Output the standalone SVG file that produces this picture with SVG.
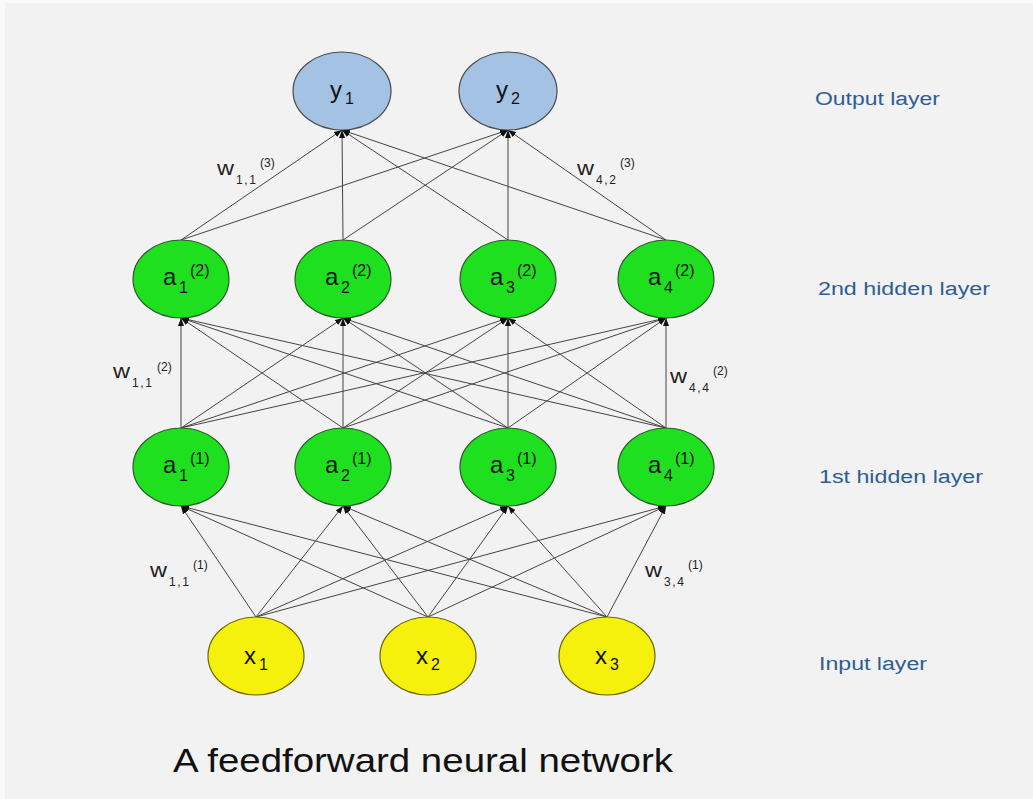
<svg xmlns="http://www.w3.org/2000/svg" width="1033" height="799" viewBox="0 0 1033 799">
<defs>
<style>
.edge{stroke:#444;stroke-width:1;fill:none;marker-end:url(#ah)}
.out{fill:#a3c2e4;stroke:#4a4a4a;stroke-width:1.2}
.hid{fill:#1fe01f;stroke:#2a5a2a;stroke-width:1.2}
.inp{fill:#f5f10c;stroke:#6b6600;stroke-width:1.2}
.nl{font-family:"Liberation Sans",Arial,sans-serif;font-size:24px;fill:#111}
.ns{font-family:"Liberation Sans",Arial,sans-serif;font-size:16px;fill:#111}
.wl{font-family:"Liberation Sans",Arial,sans-serif;font-size:20px;fill:#222}
.ws{font-family:"Liberation Sans",Arial,sans-serif;font-size:12px;fill:#222}
.layer{font-family:"Liberation Sans",Arial,sans-serif;font-size:18px;fill:#2f5d92}
.title{font-family:"Liberation Sans",Arial,sans-serif;font-size:34px;fill:#111}
</style>
<marker id="ah" markerWidth="8" markerHeight="6" refX="8" refY="3" orient="auto" markerUnits="userSpaceOnUse">
<path d="M0,0 L8,3 L0,6 z" fill="#111"/>
</marker>
</defs>
<rect x="0" y="0" width="1033" height="799" fill="#fafafa"/>
<rect x="5" y="3" width="1028" height="796" fill="#f2f2f2"/>

<g id="connectors">
<line class="edge" x1="256" y1="617" x2="181" y2="506"/>
<line class="edge" x1="256" y1="617" x2="343" y2="506"/>
<line class="edge" x1="256" y1="617" x2="508" y2="506"/>
<line class="edge" x1="256" y1="617" x2="666" y2="506"/>
<line class="edge" x1="428" y1="617" x2="181" y2="506"/>
<line class="edge" x1="428" y1="617" x2="343" y2="506"/>
<line class="edge" x1="428" y1="617" x2="508" y2="506"/>
<line class="edge" x1="428" y1="617" x2="666" y2="506"/>
<line class="edge" x1="607" y1="617" x2="181" y2="506"/>
<line class="edge" x1="607" y1="617" x2="343" y2="506"/>
<line class="edge" x1="607" y1="617" x2="508" y2="506"/>
<line class="edge" x1="607" y1="617" x2="666" y2="506"/>
<line class="edge" x1="181" y1="428" x2="181" y2="318"/>
<line class="edge" x1="181" y1="428" x2="343" y2="318"/>
<line class="edge" x1="181" y1="428" x2="508" y2="318"/>
<line class="edge" x1="181" y1="428" x2="666" y2="318"/>
<line class="edge" x1="343" y1="428" x2="181" y2="318"/>
<line class="edge" x1="343" y1="428" x2="343" y2="318"/>
<line class="edge" x1="343" y1="428" x2="508" y2="318"/>
<line class="edge" x1="343" y1="428" x2="666" y2="318"/>
<line class="edge" x1="508" y1="428" x2="181" y2="318"/>
<line class="edge" x1="508" y1="428" x2="343" y2="318"/>
<line class="edge" x1="508" y1="428" x2="508" y2="318"/>
<line class="edge" x1="508" y1="428" x2="666" y2="318"/>
<line class="edge" x1="666" y1="428" x2="181" y2="318"/>
<line class="edge" x1="666" y1="428" x2="343" y2="318"/>
<line class="edge" x1="666" y1="428" x2="508" y2="318"/>
<line class="edge" x1="666" y1="428" x2="666" y2="318"/>
<line class="edge" x1="181" y1="240" x2="342" y2="130"/>
<line class="edge" x1="181" y1="240" x2="508" y2="130"/>
<line class="edge" x1="343" y1="240" x2="342" y2="130"/>
<line class="edge" x1="343" y1="240" x2="508" y2="130"/>
<line class="edge" x1="508" y1="240" x2="342" y2="130"/>
<line class="edge" x1="508" y1="240" x2="508" y2="130"/>
<line class="edge" x1="666" y1="240" x2="342" y2="130"/>
<line class="edge" x1="666" y1="240" x2="508" y2="130"/>
</g>

<g id="y1"><ellipse class="out" cx="342" cy="91" rx="49" ry="39"/><text class="nl" x="330" y="98">y</text><text class="ns" x="345" y="104">1</text></g>
<g id="y2"><ellipse class="out" cx="508" cy="91" rx="49" ry="39"/><text class="nl" x="496" y="98">y</text><text class="ns" x="511" y="104">2</text></g>

<g id="a1_2"><ellipse class="hid" cx="181" cy="279" rx="48" ry="39"/><text class="nl" x="163" y="285">a</text><text class="ns" x="179" y="293">1</text><text class="ns" x="190" y="276">(2)</text></g>
<g id="a2_2"><ellipse class="hid" cx="343" cy="279" rx="48" ry="39"/><text class="nl" x="325" y="285">a</text><text class="ns" x="341" y="293">2</text><text class="ns" x="352" y="276">(2)</text></g>
<g id="a3_2"><ellipse class="hid" cx="508" cy="279" rx="48" ry="39"/><text class="nl" x="490" y="285">a</text><text class="ns" x="506" y="293">3</text><text class="ns" x="517" y="276">(2)</text></g>
<g id="a4_2"><ellipse class="hid" cx="666" cy="279" rx="48" ry="39"/><text class="nl" x="648" y="285">a</text><text class="ns" x="664" y="293">4</text><text class="ns" x="675" y="276">(2)</text></g>

<g id="a1_1"><ellipse class="hid" cx="181" cy="467" rx="48" ry="39"/><text class="nl" x="163" y="473">a</text><text class="ns" x="179" y="481">1</text><text class="ns" x="190" y="464">(1)</text></g>
<g id="a2_1"><ellipse class="hid" cx="343" cy="467" rx="48" ry="39"/><text class="nl" x="325" y="473">a</text><text class="ns" x="341" y="481">2</text><text class="ns" x="352" y="464">(1)</text></g>
<g id="a3_1"><ellipse class="hid" cx="508" cy="467" rx="48" ry="39"/><text class="nl" x="490" y="473">a</text><text class="ns" x="506" y="481">3</text><text class="ns" x="517" y="464">(1)</text></g>
<g id="a4_1"><ellipse class="hid" cx="666" cy="467" rx="48" ry="39"/><text class="nl" x="648" y="473">a</text><text class="ns" x="664" y="481">4</text><text class="ns" x="675" y="464">(1)</text></g>

<g id="x1"><ellipse class="inp" cx="256" cy="656" rx="48" ry="39"/><text class="nl" x="244" y="664">x</text><text class="ns" x="259" y="670">1</text></g>
<g id="x2"><ellipse class="inp" cx="428" cy="656" rx="48" ry="39"/><text class="nl" x="416" y="664">x</text><text class="ns" x="431" y="670">2</text></g>
<g id="x3"><ellipse class="inp" cx="607" cy="656" rx="48" ry="39"/><text class="nl" x="595" y="664">x</text><text class="ns" x="610" y="670">3</text></g>

<g id="weights">
<text class="wl" x="217" y="175" textLength="17" lengthAdjust="spacingAndGlyphs">w</text><text class="ws" x="236" y="184" textLength="20">1,1</text><text class="ws" x="260" y="167">(3)</text>
<text class="wl" x="577" y="175" textLength="17" lengthAdjust="spacingAndGlyphs">w</text><text class="ws" x="596" y="184" textLength="20">4,2</text><text class="ws" x="620" y="167">(3)</text>
<text class="wl" x="113" y="378" textLength="17" lengthAdjust="spacingAndGlyphs">w</text><text class="ws" x="132" y="387" textLength="20">1,1</text><text class="ws" x="157" y="371">(2)</text>
<text class="wl" x="670" y="383" textLength="17" lengthAdjust="spacingAndGlyphs">w</text><text class="ws" x="689" y="392" textLength="20">4,4</text><text class="ws" x="713" y="375">(2)</text>
<text class="wl" x="150" y="577" textLength="17" lengthAdjust="spacingAndGlyphs">w</text><text class="ws" x="169" y="586" textLength="20">1,1</text><text class="ws" x="193" y="569">(1)</text>
<text class="wl" x="645" y="577" textLength="17" lengthAdjust="spacingAndGlyphs">w</text><text class="ws" x="664" y="586" textLength="20">3,4</text><text class="ws" x="688" y="569">(1)</text>
</g>

<g id="layers">
<text class="layer" x="815" y="105" textLength="125" lengthAdjust="spacingAndGlyphs">Output layer</text>
<text class="layer" x="818" y="295" textLength="172" lengthAdjust="spacingAndGlyphs">2nd hidden layer</text>
<text class="layer" x="819" y="483" textLength="164" lengthAdjust="spacingAndGlyphs">1st hidden layer</text>
<text class="layer" x="819" y="670" textLength="108" lengthAdjust="spacingAndGlyphs">Input layer</text>
</g>

<text class="title" x="173" y="772" textLength="500" lengthAdjust="spacingAndGlyphs">A feedforward neural network</text>
</svg>
